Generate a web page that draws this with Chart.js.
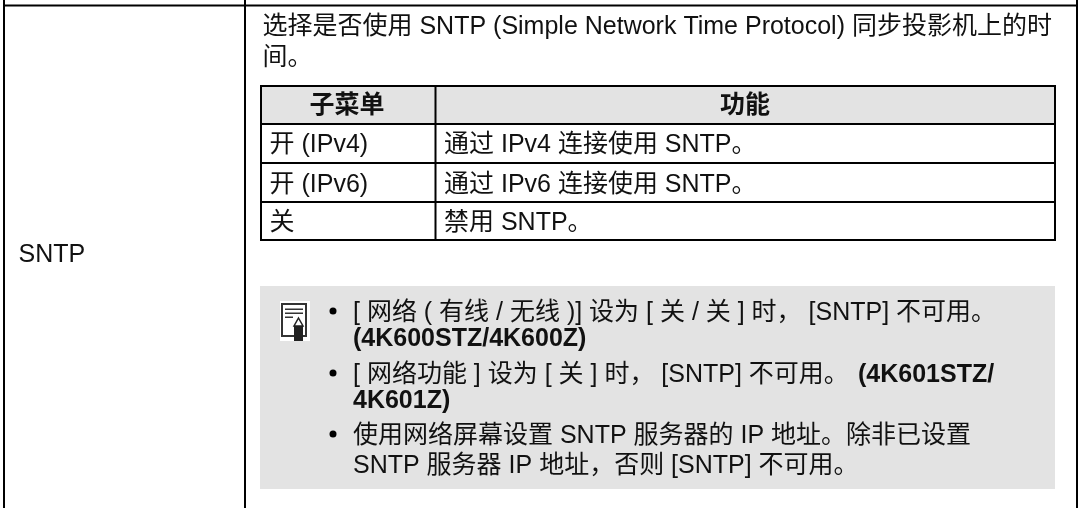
<!DOCTYPE html>
<html><head><meta charset="utf-8">
<script src="https://cdn.jsdelivr.net/npm/chart.js@4"></script>
<style>html,body{margin:0;padding:0;background:#fff}#w{position:relative;width:1080px;height:508px}</style>
</head><body><div id="w"><canvas id="c" width="1080" height="508"></canvas></div>
<script>
const rowLabel = ['SNTP'];
const introLines = ['选择是否使用 SNTP (Simple Network Time Protocol) 同步投影机上的时', '间。'];
const tableHeader = ['子菜单', '功能'];
const subMenus = ['开 (IPv4)', '开 (IPv6)', '关'];
const functions = ['通过 IPv4 连接使用 SNTP。', '通过 IPv6 连接使用 SNTP。', '禁用 SNTP。'];
const noteBullets = [
  [['[ 网络 ( 有线 / 无线 )] 设为 [ 关 / 关 ] 时， [SNTP] 不可用。', false], ['(4K600STZ/4K600Z)', true]],
  [['[ 网络功能 ] 设为 [ 关 ] 时， [SNTP] 不可用。', false, '(4K601STZ/'], ['4K601Z)', true]],
  [['使用网络屏幕设置 SNTP 服务器的 IP 地址。除非已设置', false], ['SNTP 服务器 IP 地址，否则 [SNTP] 不可用。', false]]
];
const FAM = '"Liberation Sans","Noto Sans CJK SC",sans-serif';
const SIZE = 25;
const guide = {
  id: 'doc',
  afterDatasetsDraw(chart) {
    const ctx = chart.ctx, X = v => chart.scales.x.getPixelForValue(v), Y = v => chart.scales.y.getPixelForValue(v);
    const rect = (x0, y0, x1, y1, col) => { ctx.fillStyle = col; ctx.fillRect(X(x0), Y(y0), X(x1) - X(x0), Y(y1) - Y(y0)); };
    const text = (s, x, y, bold, align) => {
      ctx.font = (bold ? 'bold ' : '') + SIZE + 'px ' + FAM;
      ctx.fillStyle = '#111'; ctx.textAlign = align || 'left'; ctx.textBaseline = 'alphabetic';
      ctx.fillText(s, X(x), Y(y));
    };
    // outer table
    rect(3, 4.5, 1078, 6.5, '#000');
    rect(3, 0, 5, 508, '#000');
    rect(244, 0, 246, 508, '#000');
    rect(1076, 0, 1078, 508, '#000');
    text(rowLabel[0], 18.5, 262);
    // intro
    introLines.forEach((s, i) => text(s, 262.5, [34, 65][i]));
    // inner table
    rect(260, 85, 1056, 124, '#e3e3e3');
    [[85,87],[123,125],[162,164],[201,203],[239,241]].forEach(r => rect(260, r[0], 1056, r[1], '#000'));
    [[260,262],[434.5,436.5],[1054,1056]].forEach(c => rect(c[0], 85, c[1], 241, '#000'));
    text(tableHeader[0], 347, 113, true, 'center');
    text(tableHeader[1], 745, 113, true, 'center');
    const ys = [152, 191.5, 230];
    subMenus.forEach((s, i) => text(s, 269.5, ys[i]));
    functions.forEach((s, i) => text(s, 444, ys[i]));
    // note
    rect(260, 286, 1055, 489, '#e3e3e3');
    const by = [[320, 346], [382, 408], [443, 473]];
    const bulletY = [311, 373, 434];
    noteBullets.forEach((b, i) => {
      ctx.fillStyle = '#000'; ctx.beginPath(); ctx.arc(X(333), Y(bulletY[i]), 3.5, 0, 7); ctx.fill();
      b.forEach((l, j) => {
        text(l[0], 353, by[i][j], l[1]);
        if (l[2]) text(l[2], 858, by[i][j], true);
      });
    });
    // icon
    rect(280, 301, 310, 341, '#fff');
    rect(281, 303, 307, 337, '#333');
    rect(283, 305, 305, 335, '#fff');
    rect(285, 308.5, 303, 310, '#333');
    rect(285, 312.5, 303, 314, '#333');
    rect(285, 316.5, 293, 318, '#333');
    rect(294, 326, 303, 341, '#222');
    ctx.fillStyle = '#fff'; ctx.strokeStyle = '#222'; ctx.lineWidth = 1.5; ctx.beginPath();
    ctx.moveTo(X(298.5), Y(318)); ctx.lineTo(X(303), Y(326)); ctx.lineTo(X(294), Y(326)); ctx.closePath(); ctx.fill(); ctx.stroke();
  }
};
new Chart(document.getElementById('c'), {
  type: 'scatter',
  data: { datasets: [{ data: [], pointRadius: 0 }] },
  options: {
    responsive: false, animation: false, events: [],
    layout: { padding: 0 },
    plugins: { legend: { display: false }, tooltip: { enabled: false }, title: { display: false } },
    scales: {
      x: { type: 'linear', min: 0, max: 1080, display: false },
      y: { type: 'linear', min: 0, max: 508, reverse: true, display: false }
    }
  },
  plugins: [guide]
});
</script></body></html>
